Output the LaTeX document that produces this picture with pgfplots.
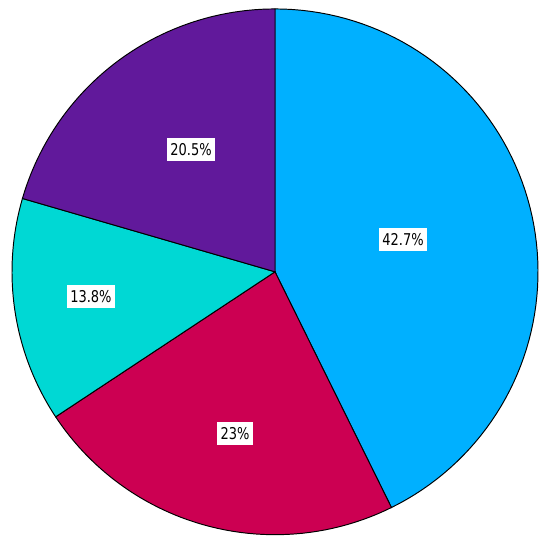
\documentclass[border=0pt]{standalone}
\usepackage{fontspec}
\setsansfont{DejaVu Sans}[FakeStretch=0.8]
\usepackage{pgfplots}
\pgfplotsset{compat=1.18}
\usepackage{pgfplotstable}

\definecolor{sliceA}{RGB}{0,176,255}
\definecolor{sliceB}{RGB}{204,0,82}
\definecolor{sliceC}{RGB}{0,216,212}
\definecolor{sliceD}{RGB}{97,25,155}

% shares in percent, clockwise from 12 o'clock
\def\vA{42.7}
\def\vB{23}
\def\vC{13.8}
\def\vD{20.5}

% label positions (axis units, radius = 1)
\pgfplotstableread{
x      y      lab
0.487  0.122  42.7\%
-0.152 -0.616 23\%
-0.700 -0.095 13.8\%
-0.319 0.464  20.5\%
}\labels

\pgfmathsetmacro{\aO}{90}
\pgfmathsetmacro{\aA}{90-3.6*\vA}
\pgfmathsetmacro{\aB}{\aA-3.6*\vB}
\pgfmathsetmacro{\aC}{\aB-3.6*\vC}
\pgfmathsetmacro{\aD}{\aC-3.6*\vD}

\begin{document}
\begin{tikzpicture}
\begin{axis}[
    scale only axis,
    width=10cm,
    height=9.94cm,
    xmin=-1.0456, xmax=1.0456,
    ymin=-1.0456, ymax=1.034,
    hide axis,
    clip=false,
]
\path (rel axis cs:0,0) rectangle (rel axis cs:1,1);
\addplot[fill=sliceA, draw=black, line width=0.5pt, domain=\aA:\aO, samples=80, variable=\t]
    ({cos(\t)}, {sin(\t)}) -- (axis cs:0,0) -- cycle;
\addplot[fill=sliceB, draw=black, line width=0.5pt, domain=\aB:\aA, samples=50, variable=\t]
    ({cos(\t)}, {sin(\t)}) -- (axis cs:0,0) -- cycle;
\addplot[fill=sliceC, draw=black, line width=0.5pt, domain=\aC:\aB, samples=40, variable=\t]
    ({cos(\t)}, {sin(\t)}) -- (axis cs:0,0) -- cycle;
\addplot[fill=sliceD, draw=black, line width=0.5pt, domain=\aD:\aC, samples=50, variable=\t]
    ({cos(\t)}, {sin(\t)}) -- (axis cs:0,0) -- cycle;
% percentage labels
\addplot[only marks, mark=none, point meta=explicit symbolic,
    nodes near coords, nodes near coords align={center},
    every node near coord/.append style={fill=white, inner xsep=1.8pt, inner ysep=2.8pt,
        font=\sffamily\fontsize{8.4}{9}\selectfont, text=black}]
    table[x=x, y=y, meta=lab] {\labels};
\end{axis}
\end{tikzpicture}
\end{document}
